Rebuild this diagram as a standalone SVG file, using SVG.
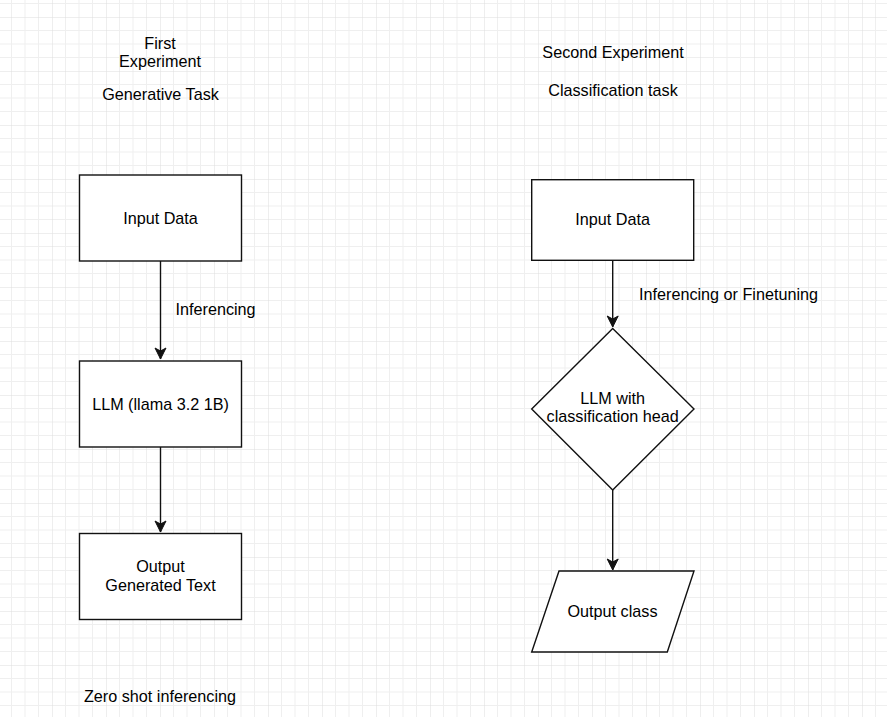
<svg xmlns="http://www.w3.org/2000/svg" width="887" height="717" viewBox="0 0 887 717">
<style>
.t{font-family:"Liberation Sans",Arial,sans-serif;font-size:16.2px;fill:#000;text-anchor:middle}
.s{fill:#fff;stroke:#111;stroke-width:1.4}
.e{fill:none;stroke:#111;stroke-width:1.4}
</style>
<defs>
<pattern id="grid" patternUnits="userSpaceOnUse" x="52" y="17" width="54" height="54">
<path d="M13.5 0V54M27 0V54M40.5 0V54M0 13.5H54M0 27H54M0 40.5H54" fill="none" stroke="#efefef" stroke-width="1"/>
<path d="M0 0V54M0 0H54" fill="none" stroke="#dedede" stroke-width="1"/>
</pattern>
<marker id="arr" markerUnits="userSpaceOnUse" markerWidth="14" markerHeight="14" viewBox="0 0 14 14" refX="12" refY="7" orient="auto">
<path d="M1 1.5L12 7L1 12.5L4 7Z" fill="#111" stroke="#111" stroke-width="1"/>
</marker>
</defs>
<rect width="887" height="717" fill="#fff"/>
<rect width="887" height="717" fill="url(#grid)"/>

<g id="labels">
<text class="t" x="160" y="49">First</text>
<text class="t" x="160" y="67">Experiment</text>
<text class="t" x="160.5" y="100">Generative Task</text>
<text class="t" x="613" y="57.5">Second Experiment</text>
<text class="t" x="613" y="95.5">Classification task</text>
<text class="t" x="160" y="702">Zero shot inferencing</text>
</g>

<g id="connectors">
<path class="e" d="M160.5 261V359" marker-end="url(#arr)"/>
<text class="t" x="175.5" y="315" style="text-anchor:start">Inferencing</text>
<path class="e" d="M160.5 447V532" marker-end="url(#arr)"/>
<path class="e" d="M612.7 260V327" marker-end="url(#arr)"/>
<text class="t" x="639" y="299.5" style="text-anchor:start">Inferencing or Finetuning</text>
<path class="e" d="M612.7 490V570" marker-end="url(#arr)"/>
</g>

<g id="input1">
<rect class="s" x="79.5" y="175" width="162" height="86"/>
<text class="t" x="160.5" y="223.5">Input Data</text>
</g>
<g id="llm1">
<rect class="s" x="79.5" y="361" width="162" height="86"/>
<text class="t" x="160.5" y="409.5">LLM (llama 3.2 1B)</text>
</g>
<g id="output1">
<rect class="s" x="79.5" y="533.5" width="162" height="86"/>
<text class="t" x="160.5" y="572">Output</text>
<text class="t" x="160.5" y="591">Generated Text</text>
</g>

<g id="input2">
<rect class="s" x="531.7" y="179.7" width="162" height="80.6"/>
<text class="t" x="612.7" y="225">Input Data</text>
</g>
<g id="llm2">
<path class="s" d="M612.7 328.5L694 409L612.7 490L531.7 409Z"/>
<text class="t" x="612.7" y="404">LLM with</text>
<text class="t" x="612.7" y="422.3">classification head</text>
</g>
<g id="output2">
<path class="s" d="M559 571H694L667.3 652H531.7Z"/>
<text class="t" x="612.5" y="617">Output class</text>
</g>
</svg>
